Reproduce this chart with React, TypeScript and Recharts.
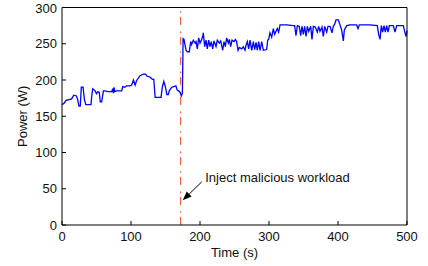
import { Line, LineChart, ReferenceLine, XAxis, YAxis } from "recharts";

// power trace (time in s, power in W)
const TIME_S = [
  0, 3, 6, 14, 17, 21, 23, 24.5, 26.5, 28, 30.5, 32.5, 34.5, 42, 43, 44.5, 48, 50, 52, 54,
  55.5, 57.5, 60, 62, 67, 72, 73.5, 74.5, 75.5, 76.5, 79, 86.5, 88, 91, 93.5, 98.5, 101,
  103.5, 106, 108, 113, 118, 121, 123, 127.5, 131, 133, 135, 143.5, 145.5, 147.5, 150, 152,
  154, 155.5, 159, 162, 165, 167, 169, 171, 173, 174.5, 175.5, 176.8, 179.7, 181.6, 184.5,
  186.5, 187.9, 190.3, 192.8, 194.2, 196.1, 198.1, 200, 202.4, 203.9, 204.8, 206.8, 208.7,
  210.6, 212.6, 214.5, 216.4, 218.4, 220.3, 223.2, 225.1, 228, 230, 232.9, 234.8, 236.7,
  238.6, 241.1, 242.5, 244.4, 246.4, 249.3, 251.2, 253.1, 255.1, 257, 260.4, 262.8, 265.2,
  266.7, 268.6, 270.5, 272.5, 274.9, 277.3, 279.2, 281.2, 283.1, 285, 287, 289.4, 291.8,
  296.6, 298.1, 299.5, 301.4, 303.9, 306.3, 308.2, 310.1, 312.1, 314, 316, 325.6, 335.3,
  337.2, 339.1, 341.1, 343.9, 345.9, 347.8, 349.8, 351.7, 353.6, 355.6, 357.5, 360.4, 362.3,
  364.3, 367.1, 370, 372, 373.9, 376.8, 378.7, 380.7, 383.6, 385.5, 388.4, 391.3, 393.2,
  395.2, 397.1, 400.5, 402.9, 405.3, 407.7, 409.2, 412.6, 417.4, 427, 429, 430.9, 446.4,
  457, 458.9, 460.9, 462.8, 464.7, 466.7, 468.6, 470.5, 472.5, 474.4, 480.2, 482.6, 485,
  494.7, 496.6, 498.6, 500,
];
const POWER_W = [
  166, 168, 172, 174, 179, 178, 172, 164, 164, 190, 190, 173, 166, 166, 177, 188, 185, 181, 184, 183,
  170, 170, 185, 185, 184, 184, 188, 182, 190, 184, 185, 185, 191, 190, 192, 192, 193,
  200, 193, 199, 206, 208, 208, 205.5, 204, 201, 201, 176, 176, 191, 198, 190, 180,
  180, 185, 190, 191, 192, 186, 185, 183, 178, 182, 257, 256, 241, 239, 239,
  253, 249, 255, 251, 253, 243, 258, 251, 256, 260, 265, 246, 255,
  243, 255, 246, 253, 243, 254, 246, 255, 251, 254, 241, 253, 246,
  258, 251, 256, 246, 255, 253, 256, 253, 241, 245, 243, 246, 241,
  248, 253, 243, 255, 241, 253, 242, 252, 241, 253, 241, 253, 241,
  242, 255, 256, 265, 259, 271, 263, 267, 271, 266, 276, 276, 275,
  275, 261, 275, 274, 261, 274, 263, 274, 260, 274, 267, 274, 256,
  274, 273, 266, 274, 267, 273, 260, 274, 266, 274, 274, 265, 274,
  277, 283, 283, 276, 269, 254, 269, 275, 276, 276, 271, 276, 276,
  275, 263, 256, 275, 266, 275, 266, 275, 266, 275, 275, 266, 275,
  275, 267, 260, 268,
];
const X_TICKS = [0, 100, 200, 300, 400, 500];
const Y_TICKS = [0, 50, 100, 150, 200, 250, 300];
const INJECT_AT = 172;
const NOTE = "Inject malicious workload";
const ARROW_FROM = { x: 202.5, y: 59.5 };
const ARROW_TO = { x: 175, y: 34 };

const data = TIME_S.map((t, i) => ({ t, w: POWER_W[i] }));

const FONT = "'Liberation Sans', Arial, Helvetica, sans-serif";
const tickStyle = { fontSize: 13, fill: "#111", fontFamily: FONT };

function Arrow(props: any) {
  const { x1, y1, x2, y2 } = props;
  const dx = x2 - x1;
  const dy = y2 - y1;
  const len = Math.sqrt(dx * dx + dy * dy) || 1;
  const ux = dx / len;
  const uy = dy / len;
  const head = 9;
  const half = 3.5;
  const bx = x2 - ux * head;
  const by = y2 - uy * head;
  const pts = `${x2},${y2} ${bx - uy * half},${by + ux * half} ${bx + uy * half},${by - ux * half}`;
  return (
    <g>
      <line x1={x1} y1={y1} x2={bx} y2={by} stroke="#000" strokeWidth={1} />
      <polygon points={pts} fill="#000" />
      <text
        x={x1 + 3.5}
        y={y1 - 4}
        dominantBaseline="central"
        fontSize={13}
        fontFamily={FONT}
        fill="#111"
      >
        {NOTE}
      </text>
    </g>
  );
}

export default function App() {
  return (
    <div style={{ position: "fixed", left: 0, top: 0, background: "#fff" }}>
      <LineChart
        width={428}
        height={266}
        data={data}
        margin={{ top: 6.5, right: 20, bottom: 0, left: 0 }}
      >
        <XAxis
          dataKey="t"
          type="number"
          domain={[0, 500]}
          ticks={X_TICKS}
          height={41}
          tickSize={-4}
          tickMargin={10.5}
          tick={tickStyle}
          stroke="#000"
          axisLine={{ stroke: "#000" }}
          tickLine={{ stroke: "#000" }}
          label={{
            value: "Time (s)",
            position: "insideBottom",
            offset: 9.5,
            style: { fontSize: 13, fill: "#111", fontFamily: FONT },
          }}
        />
        <XAxis
          xAxisId="top"
          dataKey="t"
          orientation="top"
          type="number"
          domain={[0, 500]}
          ticks={X_TICKS}
          height={1}
          tickSize={-4}
          tick={false}
          stroke="#000"
          axisLine={{ stroke: "#000" }}
          tickLine={{ stroke: "#000" }}
        />
        <YAxis
          type="number"
          domain={[0, 300]}
          ticks={Y_TICKS}
          width={62}
          tickSize={-4}
          tickMargin={9}
          tick={tickStyle}
          stroke="#000"
          axisLine={{ stroke: "#000" }}
          tickLine={{ stroke: "#000" }}
          label={{
            value: "Power (W)",
            angle: -90,
            position: "insideLeft",
            offset: 22,
            style: { fontSize: 13, fill: "#111", fontFamily: FONT, textAnchor: "middle" },
          }}
        />
        <YAxis
          yAxisId="right"
          orientation="right"
          type="number"
          domain={[0, 300]}
          ticks={Y_TICKS}
          width={1}
          tickSize={-4}
          tick={false}
          stroke="#000"
          axisLine={{ stroke: "#000" }}
          tickLine={{ stroke: "#000" }}
        />
        <ReferenceLine
          x={INJECT_AT}
          stroke="#f0441c"
          strokeWidth={1}
          strokeDasharray="8 4 1.5 6.5"
        />
        <Line
          dataKey="w"
          type="linear"
          stroke="#0000ff"
          strokeWidth={1.3}
          dot={false}
          isAnimationActive={false}
        />
        <ReferenceLine
          segment={[ARROW_FROM, ARROW_TO]}
          stroke="#000"
          shape={Arrow}
        />
      </LineChart>
    </div>
  );
}
